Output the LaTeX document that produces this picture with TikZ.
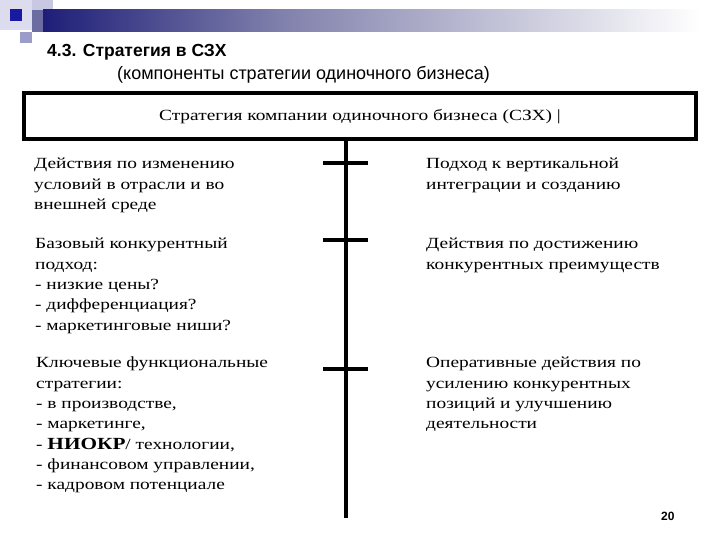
\documentclass[tikz,border=0pt]{standalone}
\usepackage{fontspec}
\setmainfont{Liberation Serif}
\newfontfamily\headfont{Liberation Sans}
\newfontfamily\bodyfont[FakeStretch=1.25]{Liberation Serif}
\definecolor{navy}{HTML}{1E1E78}
\definecolor{midbar}{HTML}{8080AC}
\definecolor{lav}{HTML}{DCDCEE}
\definecolor{lavmid}{HTML}{9C9CC8}
\definecolor{lavlight}{HTML}{C8C8E2}
\definecolor{sqblue}{HTML}{1A1AA0}
\tikzset{
  body/.style={font=\bodyfont\fontsize{15.5}{20.3}\selectfont, anchor=north west, align=left, inner sep=0pt},
  spine/.style={line width=4pt},
  tick/.style={line width=4pt},
  topbox/.style={draw, line width=4pt, minimum width=672pt, minimum height=46pt, inner sep=0pt,
    font=\bodyfont\fontsize{15.5}{18}\selectfont}
}
\begin{document}
\begin{tikzpicture}[x=1pt,y=-1pt]
\useasboundingbox (0,0) rectangle (720,540);
\fill[white] (0,0) rectangle (720,540);
% header decoration
\fill[lav] (0,0) rectangle (32,30);
\fill[lavlight] (32,0) rectangle (53,10);
\fill[lavmid] (20,32) rectangle (32,43);
\fill[midbar!80!navy] (32,10) rectangle (43,32);
\shade[left color=navy, right color=midbar] (43,10) rectangle (280,32);
\shade[left color=midbar, right color=white] (280,10) rectangle (700,32);
\fill[sqblue] (10,9) rectangle (22,21);
% title
\node[font=\headfont\bfseries\fontsize{17.5}{20}\selectfont, anchor=base west, inner sep=0pt] (title) at (47,56.5) {4.3. Стратегия в СЗХ};
\node[font=\headfont\fontsize{18}{20}\selectfont, anchor=base west, inner sep=0pt] (subtitle) at (117,80) {(компоненты стратегии одиночного бизнеса)};
% top box
\node[topbox] (box) at (360,116.5) {Стратегия компании одиночного бизнеса (СЗХ) |};
% spine
\coordinate (sbot) at (346,518);
\draw[spine] (box.south -| sbot) -- (sbot);
\coordinate (t1l) at (323,163); \coordinate (t1r) at (368,163);
\coordinate (t2l) at (323,240); \coordinate (t2r) at (368,240);
\coordinate (t3l) at (323,369); \coordinate (t3r) at (368,369);
\draw[tick] (t1l) -- (t1r);
\draw[tick] (t2l) -- (t2r);
\draw[tick] (t3l) -- (t3r);
% left column
\node[body] (l1) at (34,158) {Действия по изменению\\условий в отрасли и во\\внешней среде};
\node[body] (l2) at (35,238) {Базовый конкурентный\\подход:\\- низкие цены?\\- дифференциация?\\- маркетинговые ниши?};
\node[body] (l3) at (36,357) {Ключевые функциональные\\стратегии:\\- в производстве,\\- маркетинге,\\- {\bfseries\fontsize{17}{20.3}\selectfont НИОКР}/ технологии,\\- финансовом управлении,\\- кадровом потенциале};
% right column
\node[body] (r1) at (426,158) {Подход к вертикальной\\интеграции и созданию};
\node[body] (r2) at (426,238) {Действия по достижению\\конкурентных преимуществ};
\node[body] (r3) at (426,357) {Оперативные действия по\\усилению конкурентных\\позиций и улучшению\\деятельности};
% page number
\node[font=\headfont\bfseries\fontsize{12}{14}\selectfont, anchor=base west, inner sep=0pt] (pg) at (661,520) {20};
\end{tikzpicture}
\end{document}
